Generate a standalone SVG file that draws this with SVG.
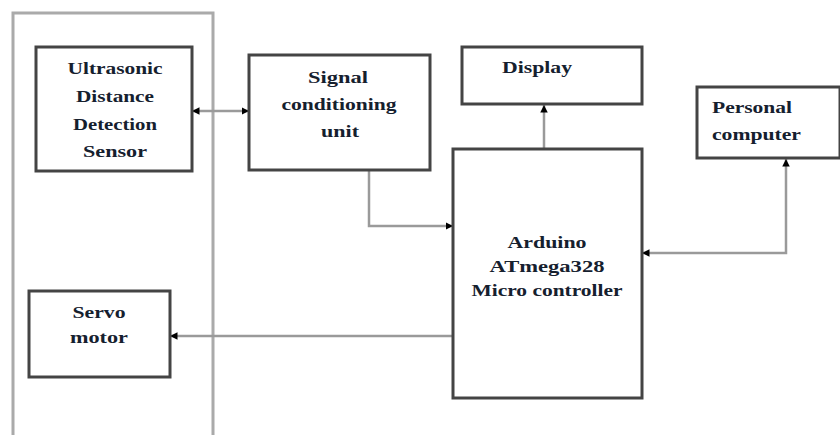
<svg xmlns="http://www.w3.org/2000/svg" width="840" height="435" viewBox="0 0 840 435">
<style>
.box{fill:#fff;stroke:#444;stroke-width:3}
.lbl{font-family:"Liberation Serif","Times New Roman",serif;font-weight:bold;font-size:16.5px;fill:#15202e;text-anchor:middle}
.lbs{font-family:"Liberation Serif","Times New Roman",serif;font-weight:bold;font-size:16.5px;fill:#15202e;text-anchor:start}
.con{fill:none;stroke:#9a9a9a;stroke-width:2.5}
</style>
<defs>
<marker id="ah" viewBox="0 0 10 10" refX="10" refY="5" markerWidth="3" markerHeight="3" orient="auto-start-reverse" markerUnits="strokeWidth">
<path d="M0,0 L10,5 L0,10 z" fill="#000"/>
</marker>
</defs>
<rect width="840" height="435" fill="#fff"/>
<g id="panel">
<path d="M13,435 L13,13 L213,13 L213,435" fill="none" stroke="#aaa" stroke-width="3"/>
</g>
<g id="connectors">
<path class="con" d="M192,111 L249,111" marker-start="url(#ah)" marker-end="url(#ah)"/>
<path class="con" d="M369,170 L369,226 L453,226" marker-end="url(#ah)"/>
<path class="con" d="M544,149 L544,105" marker-end="url(#ah)"/>
<path class="con" d="M786,159 L786,253 L642,253" marker-start="url(#ah)" marker-end="url(#ah)"/>
<path class="con" d="M453,336 L170,336" marker-end="url(#ah)"/>
</g>
<g id="ultrasonic">
<rect class="box" x="36" y="47" width="156" height="124"/>
<text class="lbl" x="115" y="74" textLength="95" lengthAdjust="spacingAndGlyphs">Ultrasonic</text>
<text class="lbl" x="115" y="102" textLength="78" lengthAdjust="spacingAndGlyphs">Distance</text>
<text class="lbl" x="115" y="130" textLength="84" lengthAdjust="spacingAndGlyphs">Detection</text>
<text class="lbl" x="115" y="157" textLength="64" lengthAdjust="spacingAndGlyphs">Sensor</text>
</g>
<g id="signal">
<rect class="box" x="249" y="55" width="181" height="115"/>
<text class="lbl" x="338" y="83" textLength="60" lengthAdjust="spacingAndGlyphs">Signal</text>
<text class="lbl" x="339" y="110" textLength="115" lengthAdjust="spacingAndGlyphs">conditioning</text>
<text class="lbl" x="340" y="137" textLength="38" lengthAdjust="spacingAndGlyphs">unit</text>
</g>
<g id="display">
<rect class="box" x="462" y="47" width="180" height="57"/>
<text class="lbl" x="537" y="73" textLength="70" lengthAdjust="spacingAndGlyphs">Display</text>
</g>
<g id="pc">
<rect class="box" x="697" y="87" width="143" height="71"/>
<text class="lbs" x="712" y="113" textLength="80" lengthAdjust="spacingAndGlyphs">Personal</text>
<text class="lbs" x="712" y="140" textLength="89" lengthAdjust="spacingAndGlyphs">computer</text>
</g>
<g id="arduino">
<rect class="box" x="453" y="149" width="189" height="249"/>
<text class="lbl" x="547" y="248" textLength="79" lengthAdjust="spacingAndGlyphs">Arduino</text>
<text class="lbl" x="547" y="272" textLength="115" lengthAdjust="spacingAndGlyphs">ATmega328</text>
<text class="lbl" x="547" y="296" textLength="151" lengthAdjust="spacingAndGlyphs">Micro controller</text>
</g>
<g id="servo">
<rect class="box" x="29" y="291" width="141" height="86"/>
<text class="lbl" x="99" y="318" textLength="53" lengthAdjust="spacingAndGlyphs">Servo</text>
<text class="lbl" x="99" y="343" textLength="58" lengthAdjust="spacingAndGlyphs">motor</text>
</g>
</svg>
